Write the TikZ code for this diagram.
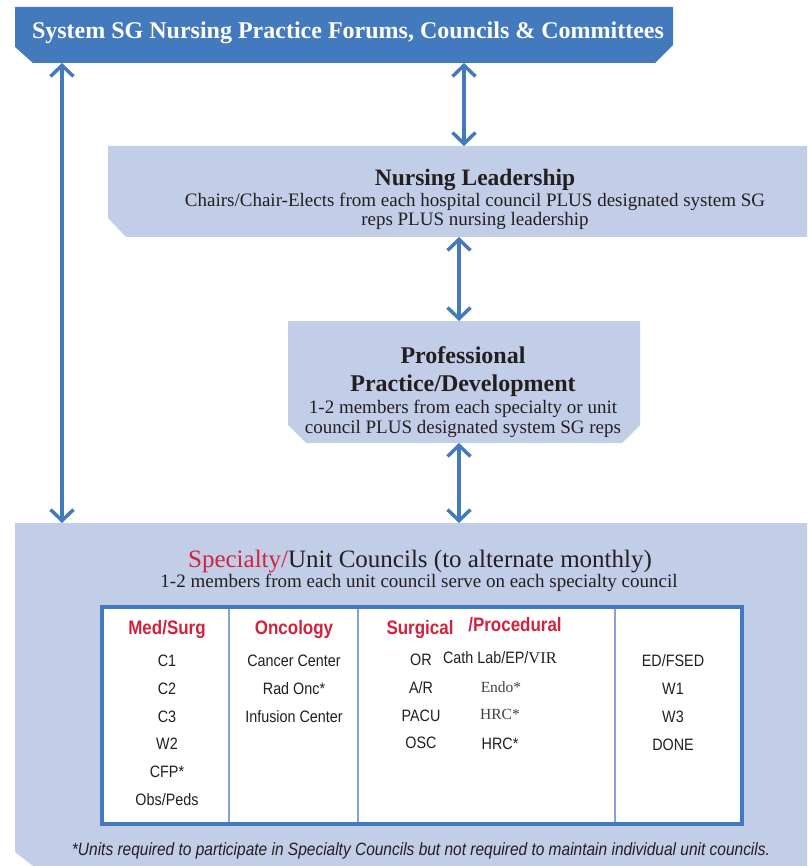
\documentclass[tikz,border=0pt]{standalone}
\usepackage{fontspec}
\setmainfont{Liberation Serif}
\newfontfamily\condsans[FakeStretch=0.87]{Liberation Sans}
\usetikzlibrary{positioning,calc,arrows.meta}
\definecolor{sgblue}{RGB}{67,122,190}
\definecolor{sglight}{RGB}{194,205,232}
\definecolor{sgred}{RGB}{210,35,62}
\definecolor{sgtext}{RGB}{35,31,32}
\definecolor{sgdiv}{RGB}{130,165,215}

\begin{document}
\begin{tikzpicture}[
  x=1pt, y=-1pt,
  every node/.style={inner sep=0pt, outer sep=0pt, text=sgtext},
  frame/.style={inner sep=0pt},
  title/.style={font=\bfseries\fontsize{24}{28}\selectfont, align=center, anchor=base},
  sub/.style={font=\fontsize{19}{19}\selectfont, align=center, anchor=base},
  head/.style={font=\condsans\bfseries\fontsize{19.5}{22}\selectfont, text=sgred, anchor=base},
  unit/.style={font=\condsans\fontsize{16.5}{27.8}\selectfont, align=center, anchor=north},
  unitrm/.style={font=\fontsize{15.5}{18}\selectfont, text=sgtext!85, anchor=base},
  arr/.style={{Straight Barb[length=11pt,width=23pt]}-{Straight Barb[length=11pt,width=23pt]},
              line width=3.5pt, sgblue},
  div/.style={sgdiv, line width=1.5pt},
]
\useasboundingbox (0,0) rectangle (807,866);

% boxes
\node[frame, minimum width=658pt, minimum height=56pt] (ban) at (344,35) {};
\node[frame, minimum width=699pt, minimum height=91pt] (lead) at (457.5,191.5) {};
\node[frame, minimum width=352pt, minimum height=122pt] (prof) at (464,382) {};
\node[frame, minimum width=792pt, minimum height=343pt] (spec) at (411,694.5) {};

\fill[sgblue] (ban.north west) -- (ban.north east) -- ([yshift=18pt]ban.south east)
  -- ([xshift=-18pt]ban.south east) -- ([xshift=18pt]ban.south west)
  -- ([yshift=16pt]ban.south west) -- cycle;
\fill[sglight] (lead.north west) -- (lead.north east) -- (lead.south east)
  -- ([xshift=18pt]lead.south west) -- ([yshift=19pt]lead.south west) -- cycle;
\fill[sglight] (prof.north west) -- (prof.north east) -- ([yshift=18pt]prof.south east)
  -- ([xshift=-18pt]prof.south east) -- ([xshift=18pt]prof.south west)
  -- ([yshift=18pt]prof.south west) -- cycle;
\fill[sglight] (spec.north west) -- (spec.north east) -- (spec.south east)
  -- ([xshift=18pt]spec.south west) -- ([yshift=14pt]spec.south west) -- cycle;

% table of councils
\node[draw=sgblue, line width=4pt, fill=white, minimum width=640pt, minimum height=217pt] (tab) at (422,715.5) {};
\foreach \dx in {127,256,513}
  \draw[div] ([xshift=\dx pt, yshift=-2pt]tab.north west) -- ([xshift=\dx pt, yshift=2pt]tab.south west);

% arrows
\coordinate (lx) at (62,0);
\coordinate (mx) at (464,0);
\coordinate (nx) at (459,0);
\draw[arr] (ban.south -| lx) -- (spec.north -| lx);
\draw[arr] (ban.south -| mx) -- (lead.north -| mx);
\draw[arr] (lead.south -| nx) -- (prof.north -| nx);
\draw[arr] (prof.south -| nx) -- (spec.north -| nx);

% texts
\node[title, text=white] (bantxt) at (348,39) {System SG Nursing Practice Forums, Councils \& Committees};
\node[title, font=\bfseries\fontsize{23.5}{28}\selectfont] (leadtitle) at (475,186) {Nursing Leadership};
\node[sub] (leadsub) at (475,226) {Chairs/Chair-Elects from each hospital council PLUS designated system SG\\reps PLUS nursing leadership};
\node[title] (proftitle) at (463,391) {Professional\\Practice/Development};
\node[sub, font=\fontsize{19}{20}\selectfont] (profsub) at (463,433) {1-2 members from each specialty or unit\\council PLUS designated system SG reps};
\node[anchor=base, font=\fontsize{25}{28}\selectfont] (spectitle) at (420,567) {\textcolor{sgred}{Specialty/}Unit Councils (to alternate monthly)};
\node[sub] (specsub) at (419,587) {1-2 members from each unit council serve on each specialty council};

\node[head] (hmed) at (167,634) {Med/Surg};
\node[head] (honc) at (294,634) {Oncology};
\node[head] (hsurg) at (420,634) {Surgical};
\node[head] (hproc) at (515,631) {/Procedural};

\node[unit] (cmed) at (167,655) {C1\\C2\\C3\\W2\\CFP*\\Obs/Peds};
\node[unit] (conc) at (294,655) {Cancer Center\\Rad Onc*\\Infusion Center};
\node[unit] (csurg) at (421,654) {OR\\A/R\\PACU\\OSC};
\node[unit] (cemerg) at (673,655) {ED/FSED\\W1\\W3\\DONE};
\node[anchor=base, font=\condsans\fontsize{16.5}{20}\selectfont] (cath) at (500,663) {Cath Lab/EP/{\rmfamily VIR}};
\node[unitrm] (endo) at (501,692) {Endo*};
\node[unitrm] (hrca) at (500,719) {HRC*};
\node[anchor=base, font=\condsans\fontsize{16.5}{20}\selectfont] (hrcb) at (500,749) {HRC*};

\node[anchor=base, font=\condsans\itshape\fontsize{17.8}{20}\selectfont] (note) at (421,855)
  {*Units required to participate in Specialty Councils but not required to maintain individual unit councils.};
\end{tikzpicture}
\end{document}
